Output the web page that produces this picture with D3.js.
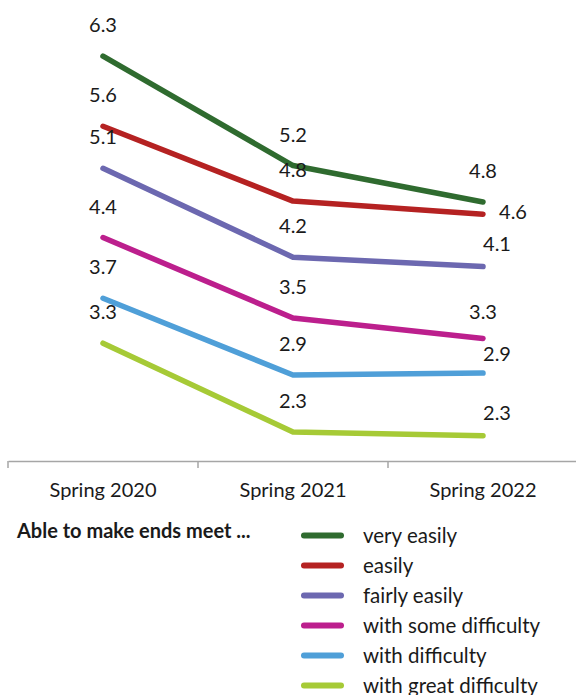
<!DOCTYPE html>
<html>
<head>
<meta charset="utf-8">
<script src="https://cdn.jsdelivr.net/npm/d3@7/dist/d3.min.js"></script>
<style>
  body { margin: 0; background: #fff; }
  text { font-family: Lato, "Noto Sans", sans-serif; fill: #1a1a1a; }
</style>
</head>
<body>
<div id="chart"></div>
<script>
// data
const periods = ["Spring 2020", "Spring 2021", "Spring 2022"];
const seriesNames = ["very easily", "easily", "fairly easily", "with some difficulty", "with difficulty", "with great difficulty"];
const veryEasily = [6.33, 5.16, 4.77];
const easily = [5.58, 4.78, 4.64];
const fairlyEasily = [5.13, 4.18, 4.08];
const someDifficulty = [4.39, 3.53, 3.31];
const withDifficulty = [3.74, 2.92, 2.94];
const greatDifficulty = [3.26, 2.31, 2.27];
const legendTitle = "Able to make ends meet ...";

const colors = ["#2f6b2f", "#b52222", "#6c68b0", "#bc1f8d", "#4f9fd8", "#a6ca36"];
// nudges for the last labels, which dodge each other
const lastLabelShift = [[0, -24], [30, 5], [14, -16], [0, -20], [14, -12], [14, -16]];

const allSeries = [veryEasily, easily, fairlyEasily, someDifficulty, withDifficulty, greatDifficulty];

const W = 576, H = 695;
const svg = d3.select("#chart").append("svg").attr("width", W).attr("height", H);

const x = d3.scaleBand().domain(periods).range([8, 578]);
const y = d3.scaleLinear().domain([2, 7]).range([461, -6.5]);
const fmt = d3.format(".1f");

// x axis
const axis = svg.append("g").attr("transform", "translate(0,461)")
  .call(d3.axisBottom(x).tickSize(0).tickPadding(22));
axis.select(".domain").attr("stroke", "#a6a6a6").attr("stroke-width", 1.5);
axis.selectAll("text").style("font-size", "20px").attr("fill", "#1a1a1a")
  .style("font-family", "Lato, 'Noto Sans', sans-serif");
axis.selectAll(".sep").data([8].concat(periods.map(p => x(p) + x.bandwidth())))
  .enter().append("line").attr("class", "sep")
  .attr("x1", d => d).attr("x2", d => d).attr("y1", 0).attr("y2", 7)
  .attr("stroke", "#a6a6a6").attr("stroke-width", 1.5);

const line = d3.line()
  .x((d, i) => x(periods[i]) + x.bandwidth() / 2)
  .y(d => y(d));

allSeries.forEach(function(vals, s) {
  svg.append("path").datum(vals)
    .attr("d", line)
    .attr("fill", "none")
    .attr("stroke", colors[s])
    .attr("stroke-width", 5.5)
    .attr("stroke-linecap", "round")
    .attr("stroke-linejoin", "round");
});

allSeries.forEach(function(vals, s) {
  svg.selectAll(null).data(vals).enter().append("text")
    .attr("x", (d, i) => x(periods[i]) + x.bandwidth() / 2 + (i === 2 ? lastLabelShift[s][0] : 0))
    .attr("y", (d, i) => y(d) + (i === 2 ? lastLabelShift[s][1] : -24))
    .attr("text-anchor", "middle")
    .style("font-size", "20px")
    .text(d => fmt(d));
});

// legend
svg.append("text").attr("x", 17).attr("y", 538)
  .style("font-size", "20px").style("font-weight", "bold")
  .text(legendTitle);

const leg = svg.selectAll(".leg").data(seriesNames).enter().append("g")
  .attr("class", "leg")
  .attr("transform", (d, i) => `translate(301,${535.5 + i * 30})`);
leg.append("line").attr("x1", 3).attr("x2", 40)
  .attr("stroke", (d, i) => colors[i]).attr("stroke-width", 6).attr("stroke-linecap", "round");
leg.append("text").attr("x", 62).attr("dy", "0.35em")
  .style("font-size", "20.5px").text(d => d);
</script>
</body>
</html>
